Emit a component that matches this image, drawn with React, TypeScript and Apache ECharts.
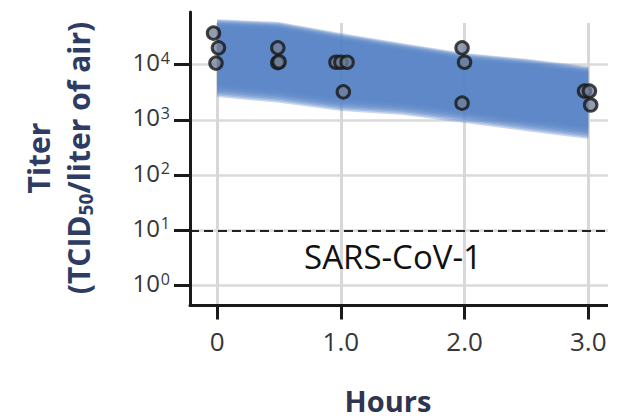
import React, { useEffect, useRef } from "react";
import * as echarts from "echarts";

// ---- data ----
const X_TICKS = [0, 1, 2, 3];
const X_TICK_LABELS = ["0", "1.0", "2.0", "3.0"];
const Y_TICKS = [0, 1, 2, 3, 4]; // log10 exponents
const DETECTION_LIMIT = 10; // titer

const BAND_HOURS = [0, 0.5, 1, 1.5, 2, 2.5, 3];
const BAND_UPPER = [57000, 51000, 32000, 21000, 14000, 11000, 8000];
const BAND_LOWER = [3300, 2600, 1860, 1560, 1120, 800, 575];

const POINT_HOURS = [-0.03, 0.01, -0.01, 0.49, 0.49, 0.5, 0.96, 1.0, 1.05, 1.02, 1.98, 2.0, 1.98, 2.97, 3.01, 3.02];
const POINT_TITERS = [37000, 20000, 10600, 20000, 10800, 11200, 11000, 11000, 11000, 3200, 20000, 11000, 2000, 3300, 3300, 1850];

// ---- layout ----
const X_MIN = -0.22;
const X_MAX = 3.16;
const Y_MIN = -0.36;
const Y_MAX = 4.95;
const V_GRID_TOP = 4.75;
const FONT = "'Open Sans', 'Noto Sans', sans-serif";
const BAND_COLOR = "#5a87c7";

export default function App() {
  const ref = useRef<HTMLDivElement>(null);

  useEffect(() => {
    if (!ref.current) return;
    const chart = echarts.init(ref.current, null, { renderer: "svg" });

    const option: any = {
      animation: false,
      backgroundColor: "#ffffff",
      grid: { left: 190, right: 11, top: 12, bottom: 114.5 },
      xAxis: {
        type: "value",
        min: X_MIN,
        max: X_MAX,
        z: 20,
        axisLine: { show: true, onZero: false, lineStyle: { color: "#1a1a1a", width: 3 } },
        axisTick: { show: true, customValues: X_TICKS, length: 14, lineStyle: { color: "#1a1a1a", width: 3 } },
        axisLabel: {
          customValues: X_TICKS,
          formatter: (v: number) => {
            const i = X_TICKS.indexOf(Math.round(v));
            return i >= 0 ? X_TICK_LABELS[i] : "";
          },
          margin: 22,
          fontSize: 26,
          fontFamily: FONT,
          color: "#363636",
        },
        splitLine: { show: false },
      },
      yAxis: {
        type: "value",
        min: Y_MIN,
        max: Y_MAX,
        z: 20,
        axisLine: { show: true, onZero: false, lineStyle: { color: "#1a1a1a", width: 3 } },
        axisTick: { show: true, customValues: Y_TICKS, length: 16, lineStyle: { color: "#1a1a1a", width: 3 } },
        axisLabel: {
          customValues: Y_TICKS,
          formatter: (v: number) => `{b|10}{s|${Math.round(v)}}`,
          margin: 20,
          rich: {
            b: { fontSize: 24, fontFamily: FONT, color: "#363636", padding: [0, 0, 6, 0] },
            s: { fontSize: 16, fontFamily: FONT, color: "#363636", verticalAlign: "top", padding: [0, 0, 0, 1] },
          },
        },
        splitLine: { show: false },
      },
      series: [
        {
          type: "line",
          name: "hgrid",
          data: [],
          z: 1,
          silent: true,
          markLine: {
            z: 1,
            silent: true,
            symbol: "none",
            label: { show: false },
            lineStyle: { color: "#dadada", width: 2.5, type: "solid" },
            data: Y_TICKS.map((v) => ({ yAxis: v })),
          },
        },
        {
          type: "line",
          name: "vgrid",
          data: [],
          z: 1,
          silent: true,
          markLine: {
            z: 1,
            silent: true,
            symbol: "none",
            label: { show: false },
            lineStyle: { color: "#d8d8d8", width: 3, type: "solid" },
            data: X_TICKS.map((v) => [{ coord: [v, Y_MIN] }, { coord: [v, V_GRID_TOP] }]),
          },
        },
        {
          type: "custom",
          name: "band",
          z: 3,
          silent: true,
          data: [[0, 0]],
          renderItem: (params: any, api: any) => {
            const top = BAND_HOURS.map((h, i) => api.coord([h, Math.log10(BAND_UPPER[i])]));
            const bot = BAND_HOURS.map((h, i) => api.coord([h, Math.log10(BAND_LOWER[i])]));
            const N = 9;
            const FT = 7;
            const FB = 12;
            const children: any[] = [];
            for (let k = 0; k < N; k++) {
              const t = k / (N - 1) - 0.5;
              const et = FT * t;
              const eb = FB * t;
              const pts = [
                ...top.map((p: number[]) => [p[0], p[1] - et]),
                ...bot.slice().reverse().map((p: number[]) => [p[0], p[1] + eb]),
              ];
              children.push({
                type: "polygon",
                shape: { points: pts },
                style: { fill: BAND_COLOR, opacity: 0.32 },
              });
            }
            return { type: "group", children };
          },
        },
        {
          type: "line",
          name: "limit",
          data: [],
          z: 3,
          silent: true,
          markLine: {
            z: 3,
            silent: true,
            symbol: "none",
            label: { show: false },
            lineStyle: { color: "#222222", width: 2, type: [9, 5] },
            data: [{ yAxis: Math.log10(DETECTION_LIMIT) }],
          },
        },
        {
          type: "scatter",
          name: "titer",
          z: 6,
          symbol: "circle",
          symbolSize: 12.5,
          itemStyle: { color: "rgba(112,126,150,0.95)", borderColor: "#171717", borderWidth: 3 },
          data: POINT_HOURS.map((h, i) => [h, Math.log10(POINT_TITERS[i])]),
        },
      ],
      graphic: [
        {
          type: "text",
          x: 38.5,
          y: 158,
          rotation: Math.PI / 2,
          style: {
            text: "Titer",
            fontSize: 30,
            fontWeight: "bold",
            fontFamily: FONT,
            fill: "#2e3c64",
            align: "center",
            verticalAlign: "middle",
          },
        },
        {
          type: "text",
          x: 78,
          y: 158,
          rotation: Math.PI / 2,
          style: {
            text: "{a|(TCID}{s|50}{a|/liter of air)}",
            align: "center",
            verticalAlign: "middle",
            rich: {
              a: { fontSize: 30, fontWeight: "bold", fontFamily: FONT, fill: "#2e3c64", lineHeight: 34 },
              s: { fontSize: 19, fontWeight: "bold", fontFamily: FONT, fill: "#2e3c64", lineHeight: 34, verticalAlign: "bottom", padding: [8, 0, 0, 0] },
            },
          },
        },
        {
          type: "text",
          x: 388,
          y: 400,
          style: {
            text: "Hours",
            fontSize: 29,
            lineHeight: 29,
            fontWeight: "bold",
            fontFamily: FONT,
            fill: "#2e3550",
            align: "center",
            verticalAlign: "middle",
          },
        },
        {
          type: "text",
          x: 393,
          y: 256,
          z: 10,
          style: {
            text: "SARS-CoV-1",
            fontSize: 33,
            fontFamily: FONT,
            fill: "#111111",
            align: "center",
            verticalAlign: "middle",
          },
        },
        {
          type: "rect",
          z: 100,
          shape: { x: 608, y: 0, width: 11, height: 420 },
          style: { fill: "#ffffff" },
        },
      ],
    };

    chart.setOption(option);
    return () => chart.dispose();
  }, []);

  return <div ref={ref} style={{ position: "absolute", left: 0, top: 0, width: 619, height: 420 }} />;
}
